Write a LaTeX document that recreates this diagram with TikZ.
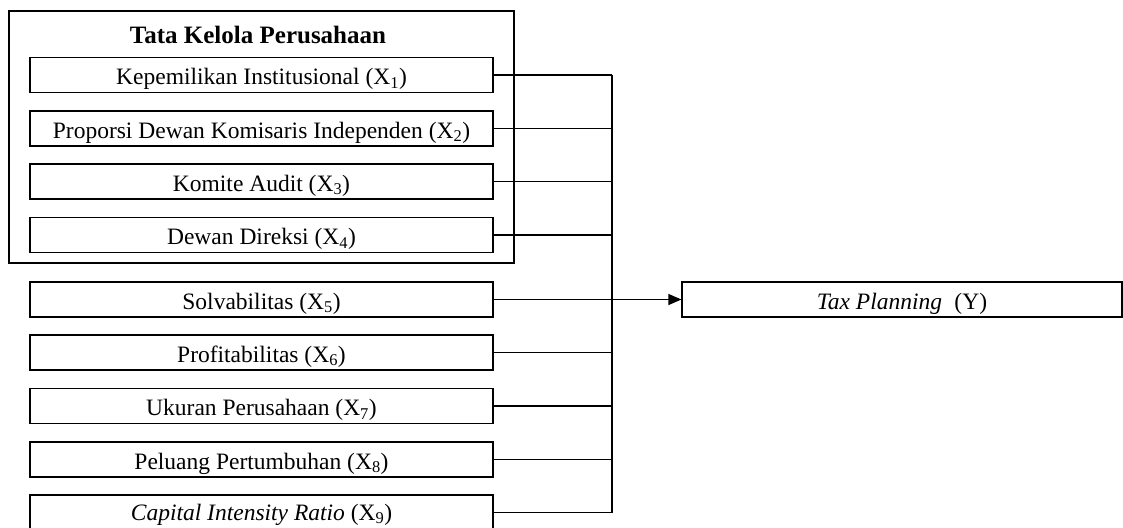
\documentclass[tikz,border=0pt]{standalone}
\usepackage{fontspec}
\setmainfont{Liberation Serif}
\usetikzlibrary{arrows.meta}
\begin{document}
\begin{tikzpicture}[x=1pt,y=-1pt,
  varbox/.style={draw, line width=1.2pt, minimum width=463pt, minimum height=35pt, inner sep=0pt, text height=19pt, text depth=0pt, font=\fontsize{23.5}{26}\selectfont},
  link/.style={line width=1.2pt},
  arr/.style={line width=1.2pt, -{Triangle[length=13pt,width=11pt]}}]
\useasboundingbox (0,0) rectangle (1123,527);
\draw[line width=1.2pt] (9,11) rectangle (514,263);
\node[font=\bfseries\fontsize{25}{28}\selectfont] (title) at (258,35) {Tata Kelola Perusahaan};
\node[varbox] (b1) at (261.5,75) {Kepemilikan Institusional (X\textsubscript{1})};
\node[varbox] (b2) at (261.5,128.5) {Proporsi Dewan Komisaris Independen (X\textsubscript{2})};
\node[varbox] (b3) at (261.5,181.5) {Komite Audit (X\textsubscript{3})};
\node[varbox] (b4) at (261.5,235) {Dewan Direksi (X\textsubscript{4})};
\node[varbox] (b5) at (261.5,299.5) {Solvabilitas (X\textsubscript{5})};
\node[varbox] (b6) at (261.5,352.5) {Profitabilitas (X\textsubscript{6})};
\node[varbox] (b7) at (261.5,406) {Ukuran Perusahaan (X\textsubscript{7})};
\node[varbox] (b8) at (261.5,459.5) {Peluang Pertumbuhan (X\textsubscript{8})};
\node[varbox, text height=16pt, text depth=1pt] (b9) at (261.5,512.5) {\textit{Capital Intensity Ratio} (X\textsubscript{9})};
\node[varbox, minimum width=440pt] (tax) at (902,299.5) {\textit{Tax Planning}\; (Y)};
\coordinate (jtop) at (612,75);
\coordinate (jbot) at (612,512.5);
\draw[link] (jtop) -- (jbot);
\foreach \i in {1,2,3,4,6,7,8,9} {
  \draw[link] (b\i.east) -- (b\i.east -| jtop);
}
\draw[arr] (b5.east) -- (tax.west);
\end{tikzpicture}
\end{document}
